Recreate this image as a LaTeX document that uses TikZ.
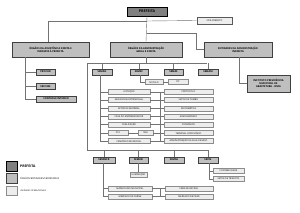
\documentclass[tikz,border=0pt]{standalone}
\usepackage{fontspec}
\setmainfont{Open Sans}
\begin{document}
\begin{tikzpicture}[x=1pt,y=-1pt,
  base/.style={draw, inner sep=0pt, align=center, font=\fontsize{2.3}{2.8}\selectfont},
  chief/.style={base, fill=black!50, draw=black, line width=0.9pt, minimum height=9pt, font=\fontsize{3.6}{4}\selectfont\bfseries},
  organ/.style={base, fill=black!25, draw=black!75, line width=0.8pt, font=\fontsize{2.5}{3}\selectfont\bfseries},
  unit/.style={base, fill=black!7, draw=black!45, line width=0.35pt, minimum height=5pt},
  conn/.style={draw=black!55, line width=0.4pt}]
\useasboundingbox (0,0) rectangle (300,212);
\fill[white] (0,0) rectangle (300,212);

% top level
\node[chief, minimum width=40pt] (pref) at (147,11.5) {PREFEITA};
\node[unit, draw=black!65, line width=0.6pt, minimum width=35pt, minimum height=7pt] (vice) at (214.5,20.5) {VICE-PREFEITO};
\node[organ, minimum width=77pt, minimum height=15pt] (assist) at (50.5,49.5) {ÓRGÃOS DA ASSISTÊNCIA DIRETA E\\IMEDIATA À PREFEITA};
\node[organ, minimum width=72pt, minimum height=15pt] (admin) at (146,49.5) {ÓRGÃOS DA ADMINISTRAÇÃO\\GERAL E DIRETA};
\node[organ, minimum width=68pt, minimum height=15pt] (entid) at (238,49.5) {ENTIDADES DA ADMINISTRAÇÃO\\INDIRETA};

\coordinate (j1) at (147,21);
\coordinate (j2) at (147,33);
\draw[conn] (pref.south) -- (admin.north);
\draw[conn] (j1) -- (48,21) -- (48,42);
\draw[conn] (j1) -- (vice.west);
\draw[conn] (j2) -- (196,33) |- (entid.west);

% assistance organs
\node[organ, minimum width=19pt, minimum height=6pt] (procur) at (45.5,72) {PROCUR};
\node[organ, minimum width=19pt, minimum height=6pt] (seccom) at (45.5,86.5) {SECCOM};
\node[organ, minimum width=40pt, minimum height=6pt] (ci) at (56,99) {CONTROLE INTERNO};
\draw[conn] (25,57) -- (25,99) -- (ci.west);
\draw[conn] (25,72) -- (procur.west);
\draw[conn] (25,86.5) -- (seccom.west);

% indirect entity
\node[organ, minimum width=43pt, minimum height=17pt] (ipma) at (268.5,83.5) {INSTITUTO PREVIDÊNCIA\\MUNICIPAL DE\\ABAETETUBA - IPMA};
\draw[conn] (239,57) |- (ipma.west);

% secretariats row 1
\node[organ, minimum width=20pt, minimum height=6pt] (semad) at (102,72) {SEMAD};
\node[organ, minimum width=18pt, minimum height=6pt] (semec) at (139,72) {SEMEC};
\node[organ, minimum width=19pt, minimum height=6pt] (semas) at (173.5,72) {SEMAS};
\node[organ, minimum width=20pt, minimum height=6pt] (semam) at (208,72) {SEMAM};
\draw[conn] (admin.south) -- (146,63);
\draw[conn] (87,63) -- (207,63);
\draw[conn] (102,63) -- (semad.north);
\draw[conn] (139,63) -- (semec.north);
\draw[conn] (173.5,63) -- (semas.north);
\draw[conn] (208,63) -- (semam.north);
\draw[conn] (87,63) -- (87,150);

% SEMEC units
\node[unit, minimum width=18pt] (semec1) at (154,82) {NÚCLEO};
\node[unit, minimum width=20pt] (fic) at (178,82) {FIC};
\draw[conn] (140,75) |- (semec1.west);
\draw[conn] (semec1.east) -- (fic.west);

% SEMAD units
\node[unit, minimum width=42pt] (u1) at (129,92) {LICITAÇÃO};
\node[unit, minimum width=42pt] (u2) at (129,100) {ASSESSORIA PATRIMONIAL};
\node[unit, minimum width=42pt] (u3) at (129,108.5) {SETOR DE MATERIAL};
\node[unit, minimum width=42pt] (u4) at (129,116.5) {CASA DO EMPREENDEDOR};
\node[unit, minimum width=42pt] (u5) at (129,124.5) {PUBLICAÇÃO};
\node[unit, minimum width=20pt] (u6) at (118,133) {CPL};
\node[unit, minimum width=15pt] (u6b) at (145.5,133) {SRH};
\node[unit, minimum width=42pt] (u7) at (129,141) {CEMITÉRIO MUNICIPAL};
\node[unit, minimum width=49pt] (r1) at (188.5,92) {PROTOCOLO};
\node[unit, minimum width=49pt] (r2) at (188.5,100) {SETOR DE TOMBO};
\node[unit, minimum width=49pt] (r3) at (188.5,108.5) {INFORMÁTICA};
\node[unit, minimum width=49pt] (r4) at (188.5,116.5) {ALMOXARIFADO};
\node[unit, minimum width=49pt] (r5) at (188.5,124.5) {CONVÊNIOS};
\node[unit, minimum width=49pt] (r6) at (188.5,133) {TERMINAL RODOVIÁRIO};
\node[unit, minimum width=49pt] (r7) at (188.5,141) {ADMINISTRAÇÃO DA SALA DE MEIO};
\draw[conn] (100,75) -- (100,141);
\foreach \n in {u1,u2,u3,u4,u5,u6,u7} \draw[conn] (100,0 |- \n.west) -- (\n.west);
\draw[conn] (u6.east) -- (u6b.west);
\draw[conn] (160,92) -- (160,141);
\foreach \n/\m in {u1/r1,u2/r2,u3/r3,u4/r4,u5/r5,u6b/r6,u7/r7} \draw[conn] (\n.east) -- (\m.west);

% secretariats row 2
\node[organ, minimum width=22pt, minimum height=6pt] (seminfr) at (104,160) {SEMINFR};
\node[organ, minimum width=19pt, minimum height=6pt] (semob) at (138.5,160) {SEMOB};
\node[organ, minimum width=20pt, minimum height=6pt] (semsa) at (174,160) {SEMSA};
\node[organ, minimum width=20pt, minimum height=6pt] (sefin) at (208,160) {SEFIN};
\draw[conn] (87,150) -- (208,150);
\draw[conn] (104,150) -- (seminfr.north);
\draw[conn] (138.5,150) -- (semob.north);
\draw[conn] (174,150) -- (semsa.north);
\draw[conn] (208,150) -- (sefin.north);

% SEMOB unit
\node[unit, minimum width=17pt] (ilum) at (138.5,174.5) {ILUMINAÇÃO};
\draw[conn] (semob.south) -- (ilum.north);

% SEMINFR units
\node[unit, minimum width=44pt] (b1) at (130,188.5) {MATADOURO MUNICIPAL};
\node[unit, minimum width=44pt] (b2) at (130,196.5) {MERCADO DE CARNE};
\node[unit, minimum width=48pt] (c1) at (189,188.5) {FEIRA MUNICIPAL};
\node[unit, minimum width=48pt] (c2) at (189,196.5) {MERCADO DE PEIXE};
\draw[conn] (103,163) -- (103,196.5);
\draw[conn] (103,188.5) -- (b1.west);
\draw[conn] (103,196.5) -- (b2.west);
\draw[conn] (b1.east) -- (c1.west);
\draw[conn] (b2.east) -- (c2.west);
\draw[conn] (160,188.5) -- (160,196.5);

% SEFIN units
\node[unit, minimum width=31pt] (f1) at (228.5,171) {CONTABILIDADE};
\node[unit, minimum width=31pt] (f2) at (228.5,179) {SETOR DE TRIBUTOS};
\draw[conn] (209,163) -- (209,179) -- (f2.west);
\draw[conn] (209,171) -- (f1.west);

% legend
\node[chief, minimum width=11pt, minimum height=10pt, line width=0.8pt] (lg1) at (11.5,166) {};
\node[organ, minimum width=11pt, minimum height=10pt] (lg2) at (11.5,178) {};
\node[unit, minimum width=11pt, minimum height=9pt] (lg3) at (11.5,190.5) {};
\node[anchor=west, inner sep=0pt, font=\fontsize{3.4}{4}\selectfont\bfseries] (lt1) at (20,166) {PREFEITA};
\node[anchor=west, inner sep=0pt, font=\fontsize{2.4}{3}\selectfont] (lt2) at (20,178) {ÓRGÃOS/ENTIDADES/SECRETARIAS};
\node[anchor=west, inner sep=0pt, font=\fontsize{2.1}{3}\selectfont] (lt3) at (20,190.5) {UNIDADES OPERACIONAIS};
\end{tikzpicture}
\end{document}
